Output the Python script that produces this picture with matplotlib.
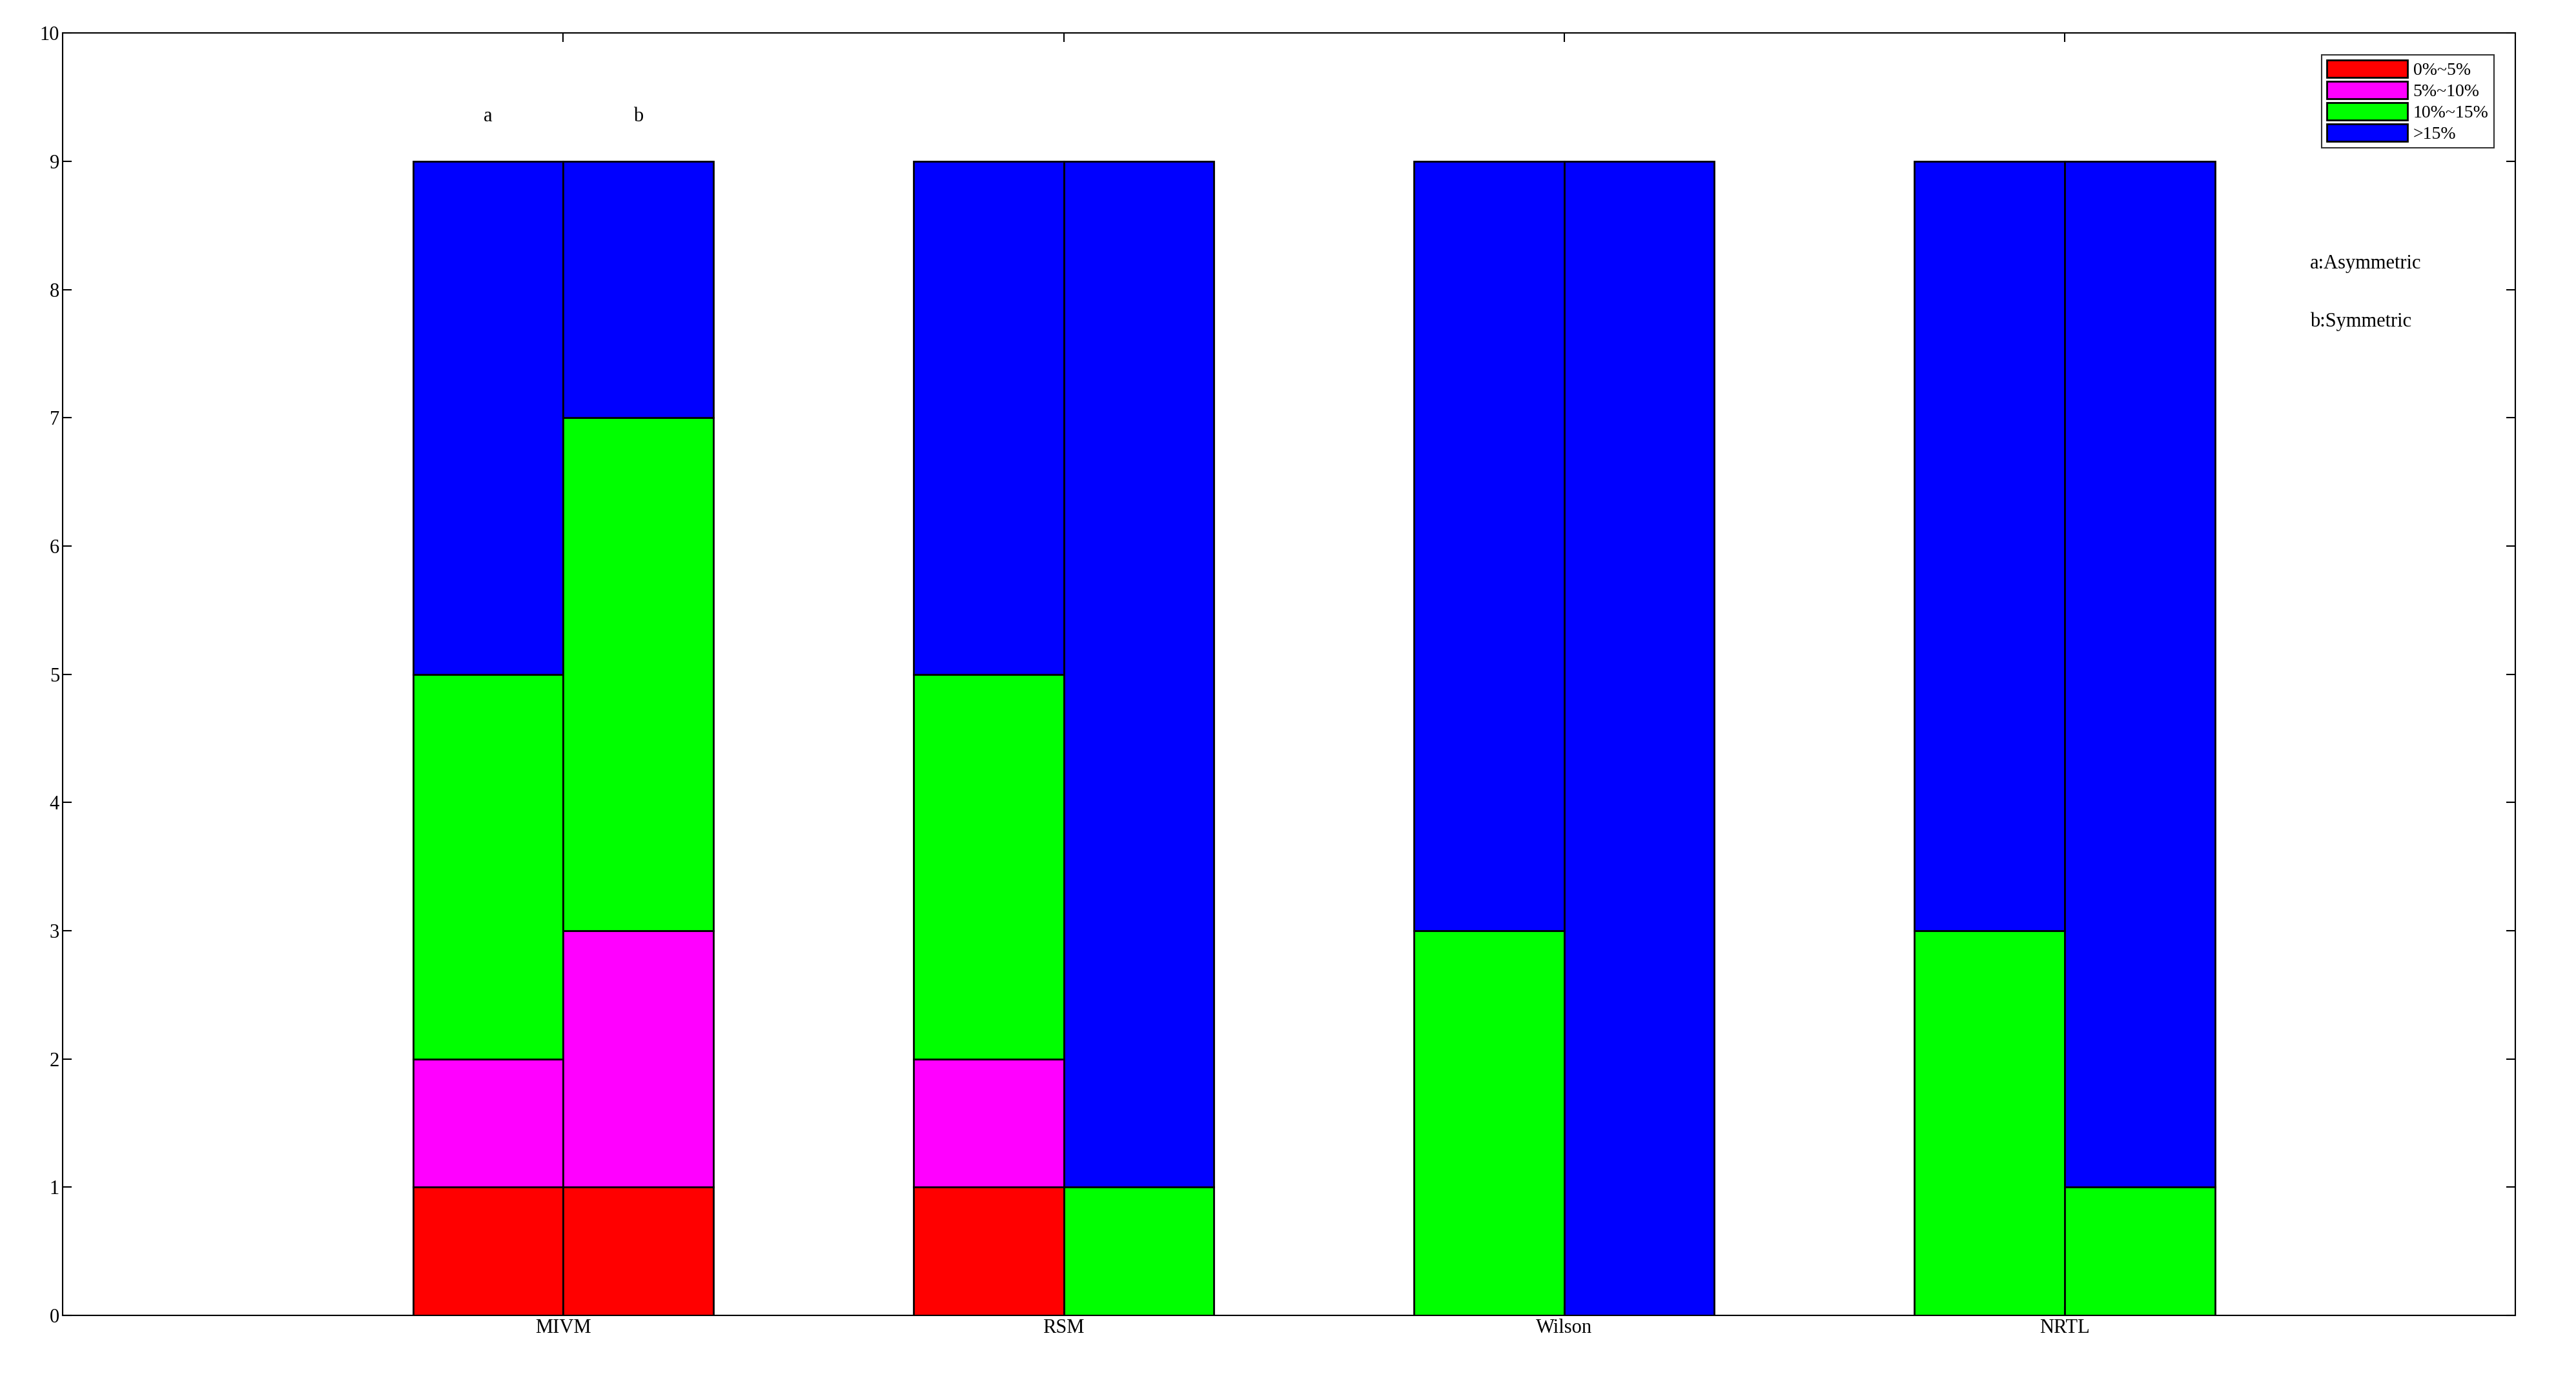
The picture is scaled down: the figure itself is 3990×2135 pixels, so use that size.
import matplotlib
matplotlib.use('Agg')
import matplotlib.pyplot as plt
import numpy as np

plt.rcParams['font.family'] = ['Liberation Serif', 'DejaVu Serif']

categories = ['MIVM', 'RSM', 'Wilson', 'NRTL']
series = ['0%~5%', '5%~10%', '10%~15%', '>15%']
colors = ['#ff0000', '#ff00ff', '#00ff00', '#0000ff']
# counts per error range, [category][range]
asym = [[1, 1, 3, 4], [1, 1, 3, 4], [0, 0, 3, 6], [0, 0, 3, 6]]
sym = [[1, 2, 4, 2], [0, 0, 1, 8], [0, 0, 0, 9], [0, 0, 1, 8]]

fig = plt.figure(figsize=(39.9, 21.35), dpi=100)
ax = fig.add_axes([0.0243, 0.0455, 0.9521, 0.9305])
x = np.arange(1, len(categories) + 1)
w = 0.3
for data, off in ((asym, -w / 2), (sym, w / 2)):
    arr = np.array(data, dtype=float)
    bottom = np.zeros(len(categories))
    for j in range(len(series)):
        ax.bar(x + off, arr[:, j], w, bottom=bottom, color=colors[j],
               edgecolor='black', linewidth=2,
               label=series[j] if off < 0 else None)
        bottom += arr[:, j]

ax.set_xlim(0, 4.9)
ax.set_ylim(0, 10)
ax.set_xticks(x)
ax.set_xticklabels(categories)
ax.set_yticks(range(0, 11))
ax.tick_params(direction='in', top=True, right=True, labelsize=22, length=10, width=1.5)
for s in ax.spines.values():
    s.set_linewidth(1.5)

ax.text(1 - w / 2, 9.35, 'a', ha='center', va='center', fontsize=22)
ax.text(1 + w / 2, 9.35, 'b', ha='center', va='center', fontsize=22)
ax.text(4.49, 7.8 + 0.4, 'a:Asymmetric', ha='left', va='center', fontsize=22)
ax.text(4.49, 7.75, 'b:Symmetric', ha='left', va='center', fontsize=22)

ax.legend(loc='upper right', fontsize=20, frameon=True, fancybox=False,
          edgecolor='black', handlelength=4.5, handleheight=1.1,
          borderpad=0.3, labelspacing=0.15, handletextpad=0.3,
          bbox_to_anchor=(0.995, 0.99)).get_frame().set_linewidth(1.5)

fig.savefig('out.png', dpi=100, facecolor='white')
